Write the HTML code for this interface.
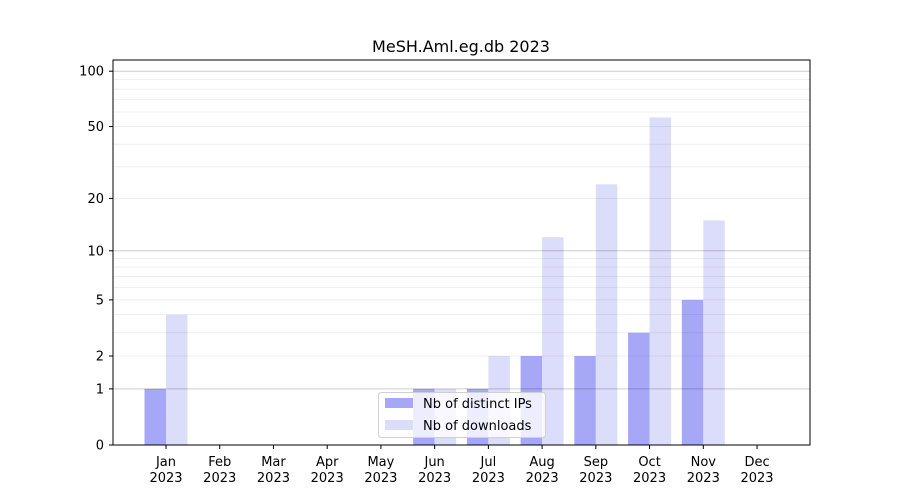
<!DOCTYPE html>
<html><head><meta charset="utf-8"><style>
html,body{margin:0;padding:0;background:#fff}
svg{display:block;font-family:"DejaVu Sans","Liberation Sans",sans-serif}
</style></head><body>
<svg id="s" width="900" height="500" xmlns="http://www.w3.org/2000/svg"></svg>
<script>
const s=document.getElementById('s');
const Y=v=>445-186.5*Math.log10(1+v);
let h='';
h+='<rect x="0" y="0" width="900" height="500" fill="#fff"/>';
const minors=[2,3,4,5,6,7,8,9,20,30,40,50,60,70,80,90];
const ips=[1,0,0,0,0,1,1,2,2,3,5,0];
const dl=[4,0,0,0,0,1,2,12,24,56,15,0];
const months=['Jan','Feb','Mar','Apr','May','Jun','Jul','Aug','Sep','Oct','Nov','Dec'];
for(let i=0;i<12;i++){
 const c=166+i*53.73;
 if(ips[i]>0){const y=Y(ips[i]);h+=`<rect x="${c-21.5}" y="${y}" width="21.5" height="${445-y}" fill="#a7a7f7"/>`;}
 if(dl[i]>0){const y=Y(dl[i]);h+=`<rect x="${c}" y="${y}" width="21.5" height="${445-y}" fill="#dcdcfb"/>`;}
 h+=`<line x1="${c}" x2="${c}" y1="445" y2="449" stroke="#000"/>`;
 h+=`<text x="${c}" y="466" font-size="13" text-anchor="middle">${months[i]}</text>`;
 h+=`<text x="${c}" y="482" font-size="13" text-anchor="middle">2023</text>`;
}
minors.forEach(v=>{const y=Y(v);h+=`<line x1="113" x2="810" y1="${y}" y2="${y}" stroke="#000" stroke-opacity="0.08" stroke-width="0.8"/>`;});
[1,10,100].forEach(v=>{const y=Y(v);h+=`<line x1="113" x2="810" y1="${y}" y2="${y}" stroke="#000" stroke-opacity="0.2" stroke-width="1"/>`;});
[0,1,2,5,10,20,50,100].forEach(v=>{const y=Y(v);h+=`<line x1="109" x2="113" y1="${y}" y2="${y}" stroke="#000"/><text x="104" y="${y+4.5}" font-size="13" text-anchor="end">${v}</text>`;});
h+='<rect x="113" y="60" width="697" height="385" fill="none" stroke="#000" stroke-width="1"/>';
h+='<text x="461" y="52" font-size="16" text-anchor="middle">MeSH.Aml.eg.db 2023</text>';
h+='<rect x="378.5" y="392.5" width="167" height="45" rx="3" fill="#fff" fill-opacity="0.8" stroke="#d0d0d0"/>';
h+='<rect x="385" y="398" width="28" height="10" fill="#a7a7f7"/><text x="423" y="408" font-size="13">Nb of distinct IPs</text>';
h+='<rect x="385" y="420" width="28" height="10" fill="#dcdcfb"/><text x="423" y="430" font-size="13">Nb of downloads</text>';
s.innerHTML=h;
</script>
</body></html>
